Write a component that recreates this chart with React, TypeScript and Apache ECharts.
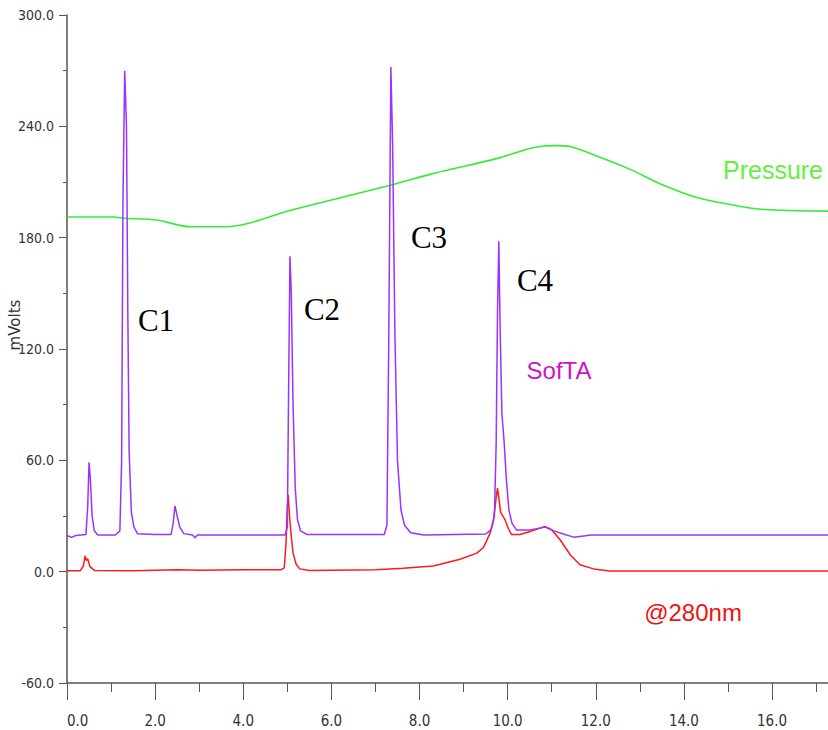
import React, { useEffect, useRef } from "react";
import * as echarts from "echarts";

// SofTA trace (purple) [min, mV]
const softaTrace: [number, number][] = [
  [0, 19.5], [0.1, 18.5], [0.2, 19.5], [0.43, 20], [0.47, 35], [0.5, 59], [0.53, 50],
  [0.57, 30], [0.62, 22], [0.7, 19.8], [1.1, 19.8], [1.2, 22], [1.24, 60], [1.27, 200],
  [1.31, 270], [1.35, 240], [1.38, 140], [1.41, 65], [1.46, 32], [1.52, 24], [1.6, 20.5],
  [2.0, 20], [2.36, 20], [2.41, 26], [2.45, 35.5], [2.5, 30], [2.56, 24], [2.65, 20.5],
  [2.85, 19.8], [2.9, 18.2], [2.96, 19.8], [4.95, 19.8], [5.0, 24], [5.03, 100],
  [5.06, 170], [5.09, 150], [5.13, 90], [5.18, 45], [5.23, 28], [5.3, 22], [5.45, 20],
  [7.2, 20], [7.26, 25], [7.3, 120], [7.35, 272], [7.39, 230], [7.44, 130], [7.5, 60],
  [7.58, 33], [7.66, 25], [7.8, 21], [8.1, 19.8], [9.5, 20.3], [9.62, 22.5], [9.7, 30],
  [9.74, 70], [9.77, 140], [9.8, 178], [9.83, 130], [9.87, 85], [9.92, 70], [9.97, 50],
  [10.03, 33], [10.1, 26], [10.2, 22.5], [10.5, 22.5], [10.85, 24], [11.05, 22],
  [11.3, 20], [11.5, 18.6], [11.9, 19.8], [17.3, 19.8],
];

// 280 nm trace (red)
const uv280Trace: [number, number][] = [
  [0, 0.5], [0.3, 0.5], [0.37, 3], [0.41, 8.5], [0.44, 6], [0.47, 7], [0.52, 2.7],
  [0.63, 0.6], [1.5, 0.5], [2.5, 1], [3.0, 0.8], [4.0, 1], [4.85, 1], [4.93, 2],
  [4.97, 15], [5.0, 35], [5.02, 41.4], [5.05, 30], [5.09, 19], [5.13, 10], [5.2, 4],
  [5.28, 1.5], [5.5, 0.6], [7.0, 1], [7.63, 1.9], [8.31, 3.1], [8.92, 6.7], [9.3, 10],
  [9.45, 13], [9.53, 17], [9.62, 22], [9.68, 28], [9.74, 40], [9.77, 45], [9.81, 38],
  [9.84, 32], [9.94, 28], [10.02, 23], [10.09, 20], [10.28, 20], [10.51, 21.6],
  [10.7, 23.2], [10.85, 24.3], [11.0, 22.6], [11.19, 17.2], [11.42, 9.1], [11.64, 3.7],
  [11.95, 1.5], [12.32, 0.4], [17.3, 0.4],
];

// Pressure trace (green)
const pressureTrace: [number, number][] = [
  [0, 191.1], [1.05, 191.1], [1.3, 190.5], [2.04, 189.5], [2.79, 185.9], [3.62, 185.9],
  [5.14, 195.2], [7.41, 208.7], [8.3, 214.5], [9.75, 222.6], [10.5, 228], [10.81, 229.4],
  [11.1, 229.6], [11.42, 229.1], [12.02, 224], [12.78, 216.8], [13.54, 208.2], [14.29, 201.6],
  [15.05, 197.9], [15.8, 195.2], [17.3, 194.3],
];

const yTicks = { min: -60, max: 300, interval: 60 };
const xTicks = { min: 0, max: 17.27, interval: 2, minorInterval: 1 };

const tickFont = "'Liberation Sans Narrow', 'DejaVu Sans Condensed', sans-serif";

export default function App() {
  const ref = useRef<HTMLDivElement>(null);
  useEffect(() => {
    if (!ref.current) return;
    const chart = echarts.init(ref.current, undefined, { renderer: "svg" });
    const axisColor = "#555";
    chart.setOption({
      animation: false,
      backgroundColor: "#fff",
      grid: { left: 67, top: 15, right: 0, bottom: 47, containLabel: false },
      xAxis: [
        {
          type: "value",
          min: xTicks.min,
          max: xTicks.max,
          interval: xTicks.interval,
          axisLine: { show: true, onZero: false, lineStyle: { color: axisColor, width: 1.5 } },
          axisTick: { show: true, length: 17, lineStyle: { color: axisColor, width: 1 } },
          axisLabel: {
            formatter: (v: number) => v.toFixed(1),
            showMaxLabel: false,
            alignMinLabel: "left",
            margin: 30,
            fontSize: 15,
            fontFamily: tickFont,
            color: "#333",
          },
          splitLine: { show: false },
        },
        {
          type: "value",
          position: "bottom",
          min: xTicks.min,
          max: xTicks.max,
          interval: xTicks.minorInterval,
          axisLine: { show: false, onZero: false },
          axisTick: { show: true, length: 9, lineStyle: { color: axisColor, width: 1 } },
          axisLabel: { show: false },
          splitLine: { show: false },
        },
      ],
      yAxis: {
        type: "value",
        min: yTicks.min,
        max: yTicks.max,
        interval: yTicks.interval,
        axisLine: { show: true, onZero: false, lineStyle: { color: axisColor, width: 1.5 } },
        axisTick: { show: true, length: 8, lineStyle: { color: axisColor, width: 1 } },
        minorTick: { show: true, splitNumber: 2, length: 4, lineStyle: { color: axisColor, width: 1 } },
        axisLabel: {
          formatter: (v: number) => v.toFixed(1),
          margin: 13,
          fontSize: 14,
          fontFamily: tickFont,
          color: "#333",
        },
        splitLine: { show: false },
      },
      series: [
        {
          name: "Pressure",
          type: "line",
          data: pressureTrace,
          showSymbol: false,
          smooth: 0.3,
          lineStyle: { color: "#33ee33", width: 1.6 },
          z: 2,
        },
        {
          name: "@280nm",
          type: "line",
          data: uv280Trace,
          showSymbol: false,
          lineStyle: { color: "#ff1a1a", width: 1.5 },
          z: 3,
        },
        {
          name: "SofTA",
          type: "line",
          data: softaTrace,
          showSymbol: false,
          lineStyle: { color: "#9933ff", width: 1.5 },
          z: 4,
        },
      ],
      graphic: [
        {
          type: "text", x: 15, y: 325, rotation: Math.PI / 2,
          style: { text: "mVolts", fontSize: 15, fontFamily: "'DejaVu Sans', sans-serif", fill: "#333", align: "center", verticalAlign: "middle" },
        },
        { type: "text", x: 156, y: 320, style: { text: "C1", fontSize: 31, fontFamily: "'Liberation Serif', serif", fill: "#000", align: "center", verticalAlign: "middle" } },
        { type: "text", x: 322, y: 309, style: { text: "C2", fontSize: 31, fontFamily: "'Liberation Serif', serif", fill: "#000", align: "center", verticalAlign: "middle" } },
        { type: "text", x: 429, y: 237, style: { text: "C3", fontSize: 31, fontFamily: "'Liberation Serif', serif", fill: "#000", align: "center", verticalAlign: "middle" } },
        { type: "text", x: 535, y: 280, style: { text: "C4", fontSize: 31, fontFamily: "'Liberation Serif', serif", fill: "#000", align: "center", verticalAlign: "middle" } },
        { type: "text", x: 773, y: 170, style: { text: "Pressure", fontSize: 25, fontFamily: "'Liberation Sans', Arial, sans-serif", fill: "#66ee44", align: "center", verticalAlign: "middle" } },
        { type: "text", x: 559, y: 370, style: { text: "SofTA", fontSize: 24, fontFamily: "'Liberation Sans', Arial, sans-serif", fill: "#cc11cc", align: "center", verticalAlign: "middle" } },
        { type: "text", x: 693, y: 612, style: { text: "@280nm", fontSize: 24, fontFamily: "'Liberation Sans', Arial, sans-serif", fill: "#ee1111", align: "center", verticalAlign: "middle" } },
      ],
    });
    return () => chart.dispose();
  }, []);
  return (
    <div
      ref={ref}
      style={{ position: "absolute", left: 0, top: 0, width: 828, height: 730 }}
    />
  );
}
